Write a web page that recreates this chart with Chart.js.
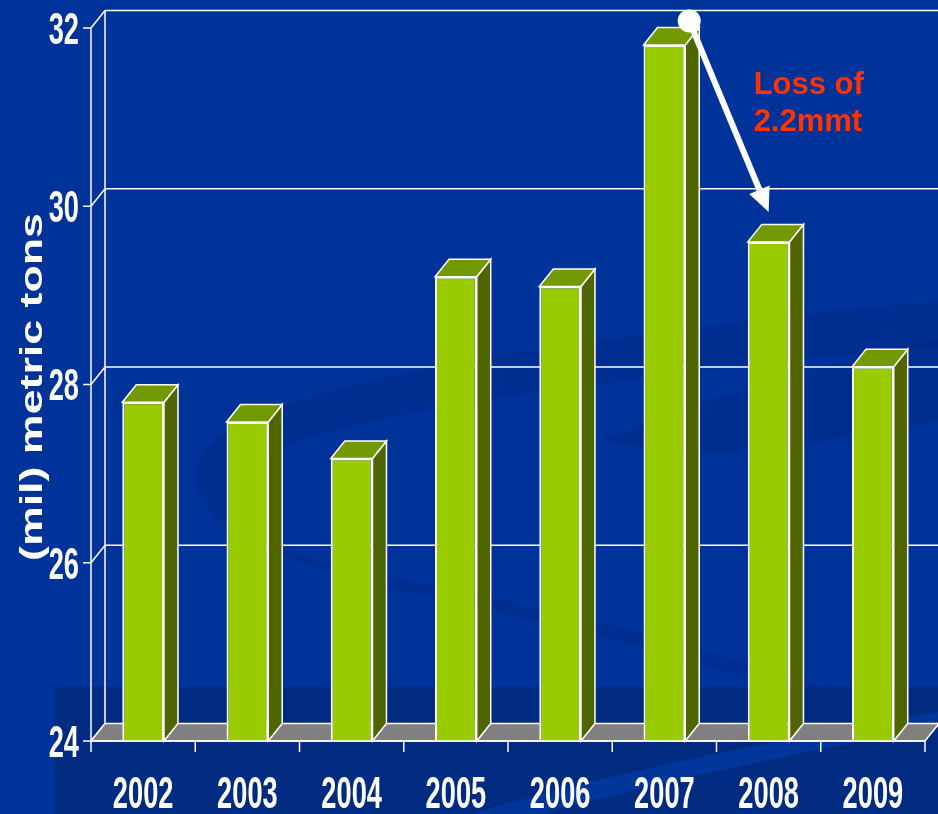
<!DOCTYPE html>
<html>
<head>
<meta charset="utf-8">
<title>Production 2002-2009</title>
<script src="https://cdn.jsdelivr.net/npm/chart.js@4.4.0/dist/chart.umd.min.js"></script>
<style>
    html, body { margin: 0; padding: 0; background: #003399; }
    canvas { display: block; }
</style>
</head>
<body>
<canvas id="prodChart" width="938" height="814"></canvas>
<script>
const years = ["2002", "2003", "2004", "2005", "2006", "2007", "2008", "2009"];
const tonnage = [27.8, 27.58, 27.17, 29.21, 29.1, 31.81, 29.6, 28.2];
const yTicks = [24, 26, 28, 30, 32];
const yTitle = "(mil) metric tons";
const noteLines = ["Loss of", "2.2mmt"];

// depth of the fake 3D box
const DX = 14;
const DY = -17.5;

const SANS = "'Liberation Sans', Arial, sans-serif";

// squeezed, tall numbers like the original slide
function tallText(ctx, text, x, yMid, align) {
    const size = 40;
    const sx = 0.68;                     // ~15px per digit
    const sy = 31.5 / (size * 0.716);    // cap height ~31px
    ctx.save();
    ctx.font = "bold " + size + "px " + SANS;
    ctx.fillStyle = "#ffffff";
    ctx.textAlign = align;
    ctx.textBaseline = "alphabetic";
    ctx.translate(x, yMid);
    ctx.scale(sx, sy);
    ctx.fillText(text, 0, size * 0.716 / 2);
    ctx.restore();
}

function poly(ctx, pts, fill, stroke) {
    ctx.beginPath();
    ctx.moveTo(pts[0][0], pts[0][1]);
    for (let i = 1; i < pts.length; i++) ctx.lineTo(pts[i][0], pts[i][1]);
    ctx.closePath();
    if (fill) { ctx.fillStyle = fill; ctx.fill(); }
    if (stroke) { ctx.strokeStyle = stroke; ctx.lineWidth = 1.5; ctx.stroke(); }
}

function line(ctx, x1, y1, x2, y2, w) {
    ctx.beginPath();
    ctx.moveTo(x1, y1);
    ctx.lineTo(x2, y2);
    ctx.lineWidth = w || 1.5;
    ctx.strokeStyle = "#ffffff";
    ctx.stroke();
}

const box3d = {
    id: "box3d",

    beforeDraw(chart) {
        const ctx = chart.ctx;
        const W = chart.width, H = chart.height;
        ctx.save();
        ctx.fillStyle = "#003399";
        ctx.fillRect(0, 0, W, H);

        // darker swirl ribbons of the slide background
        ctx.fillStyle = "rgba(0, 28, 110, 0.2)";
        ctx.beginPath();
        ctx.moveTo(195, 470);
        ctx.bezierCurveTo(215, 390, 480, 350, 938, 300);
        ctx.lineTo(938, 345);
        ctx.bezierCurveTo(620, 380, 320, 410, 235, 470);
        ctx.bezierCurveTo(215, 500, 240, 540, 300, 560);
        ctx.bezierCurveTo(240, 545, 190, 510, 195, 470);
        ctx.closePath();
        ctx.fill();

        ctx.beginPath();
        ctx.moveTo(210, 520);
        ctx.bezierCurveTo(330, 600, 520, 590, 938, 740);
        ctx.lineTo(938, 730);
        ctx.bezierCurveTo(560, 580, 330, 590, 210, 520);
        ctx.closePath();
        ctx.fill();

        ctx.beginPath();
        ctx.moveTo(600, 440);
        ctx.bezierCurveTo(700, 400, 830, 360, 938, 340);
        ctx.lineTo(938, 420);
        ctx.bezierCurveTo(830, 440, 720, 470, 600, 440);
        ctx.closePath();
        ctx.fill();

        // dark band along the bottom
        ctx.fillStyle = "#002b80";
        ctx.fillRect(55, 687, W - 55, H - 687);

        // lighter diagonal streak at bottom right
        ctx.fillStyle = "#00359a";
        ctx.beginPath();
        ctx.moveTo(470, H);
        ctx.bezierCurveTo(620, 770, 780, 740, 938, 712);
        ctx.lineTo(938, 726);
        ctx.bezierCurveTo(780, 756, 650, 785, 540, H);
        ctx.closePath();
        ctx.fill();
        ctx.restore();
    },

    beforeDatasetsDraw(chart) {
        const ctx = chart.ctx;
        const area = chart.chartArea;
        const y = chart.scales.y;
        const W = chart.width;
        ctx.save();

        // back wall grid and side wall diagonals
        yTicks.forEach(v => {
            const py = y.getPixelForValue(v);
            if (v !== yTicks[0]) {
                line(ctx, area.left + DX, py + DY, W, py + DY);
            }
            line(ctx, area.left, py, area.left + DX, py + DY);
        });
        line(ctx, area.left + DX, y.getPixelForValue(yTicks[yTicks.length - 1]) + DY,
            area.left + DX, area.bottom + DY);

        // floor
        poly(ctx, [
            [area.left, area.bottom],
            [area.right, area.bottom],
            [area.right + DX, area.bottom + DY],
            [area.left + DX, area.bottom + DY]
        ], "#808080", "#ffffff");

        ctx.restore();
    },

    afterDatasetsDraw(chart) {
        const ctx = chart.ctx;
        const area = chart.chartArea;
        const x = chart.scales.x;
        const y = chart.scales.y;
        const bars = chart.getDatasetMeta(0).data;
        const floorY = area.bottom;
        ctx.save();

        // side and top faces
        bars.forEach(b => {
            const L = b.x - b.width / 2;
            const R = b.x + b.width / 2;
            poly(ctx, [[R, b.y], [R + DX, b.y + DY], [R + DX, floorY + DY], [R, floorY]],
                "#4f6600", "#ffffff");
            poly(ctx, [[L, b.y], [R, b.y], [R + DX, b.y + DY], [L + DX, b.y + DY]],
                "#739900", "#ffffff");
        });

        // front axes
        line(ctx, area.left, area.top, area.left, area.bottom);
        line(ctx, area.left, area.bottom, area.right, area.bottom);
        yTicks.forEach(v => {
            const py = y.getPixelForValue(v);
            line(ctx, area.left - 8, py, area.left, py);
            tallText(ctx, String(v), area.left - 12, py, "right");
        });
        const step = (area.right - area.left) / years.length;
        for (let i = 0; i <= years.length; i++) {
            const px = area.left + i * step;
            line(ctx, px, area.bottom, px, area.bottom + 11);
        }
        years.forEach((yr, i) => {
            tallText(ctx, yr, x.getPixelForValue(i), area.bottom + 51, "center");
        });

        // y title, stretched along the axis
        ctx.save();
        ctx.translate(42, 561);
        ctx.rotate(-Math.PI / 2);
        ctx.font = "bold 31px " + SANS;
        ctx.fillStyle = "#ffffff";
        ctx.textBaseline = "alphabetic";
        ctx.textAlign = "left";
        const natural = ctx.measureText(yTitle).width;
        ctx.scale(348 / natural, 1);
        ctx.fillText(yTitle, 0, 0);
        ctx.restore();

        // loss annotation: 2007 -> 2008
        const b7 = bars[5], b8 = bars[6];
        const sxp = b7.x + b7.width / 2 + 4;
        const syp = y.getPixelForValue(tonnage[5]) - 24;
        const tx = b8.x;
        const ty = y.getPixelForValue(tonnage[6]) - 30;
        const ang = Math.atan2(ty - syp, tx - sxp);
        const headLen = 24, headW = 11;
        const hx = tx - Math.cos(ang) * headLen;
        const hy = ty - Math.sin(ang) * headLen;

        ctx.strokeStyle = "#ffffff";
        ctx.fillStyle = "#ffffff";
        ctx.lineWidth = 6;
        ctx.beginPath();
        ctx.moveTo(sxp, syp);
        ctx.lineTo(hx, hy);
        ctx.stroke();
        ctx.beginPath();
        ctx.moveTo(tx, ty);
        ctx.lineTo(hx + Math.sin(ang) * headW, hy - Math.cos(ang) * headW);
        ctx.lineTo(hx - Math.sin(ang) * headW, hy + Math.cos(ang) * headW);
        ctx.closePath();
        ctx.fill();
        ctx.beginPath();
        ctx.arc(sxp, syp, 11.5, 0, Math.PI * 2);
        ctx.fill();

        ctx.font = "bold 31px " + SANS;
        ctx.fillStyle = "#ff3300";
        ctx.textAlign = "left";
        ctx.textBaseline = "alphabetic";
        ctx.fillText(noteLines[0], b8.x - 15, 94);
        ctx.fillText(noteLines[1], b8.x - 15, 131);

        ctx.restore();
    }
};

const ctx = document.getElementById("prodChart").getContext("2d");

new Chart(ctx, {
    type: "bar",
    data: {
        labels: years,
        datasets: [{
            data: tonnage,
            backgroundColor: "#99cc00",
            borderColor: "#ffffff",
            borderWidth: 2,
            barPercentage: 0.4,
            categoryPercentage: 1
        }]
    },
    options: {
        responsive: false,
        animation: false,
        layout: {
            padding: { left: 91, right: 13, top: 28, bottom: 73 }
        },
        plugins: {
            legend: { display: false },
            tooltip: { enabled: false }
        },
        scales: {
            x: { display: false },
            y: { display: false, min: 24, max: 32 }
        }
    },
    plugins: [box3d]
});
</script>
</body>
</html>
